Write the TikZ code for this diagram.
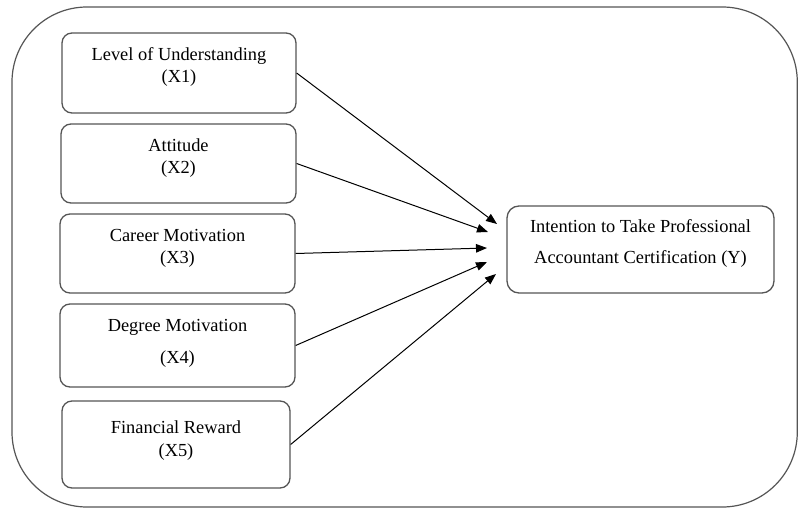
\documentclass[tikz,border=0pt]{standalone}
\usepackage{fontspec}
\setmainfont{Liberation Serif}
\usetikzlibrary{arrows.meta}
\definecolor{rim}{HTML}{555555}

\begin{document}
\begin{tikzpicture}[x=1pt,y=-1pt,>={Triangle[length=11pt,width=8.5pt]},
 var/.style={draw=rim,line width=1.3pt,rounded corners=10pt,inner sep=0pt},
 txt/.style={align=center,font=\fontsize{18.4}{22.5}\selectfont,inner sep=0pt},
 rel/.style={->,line width=1pt,black}]
 \useasboundingbox (0,0) rectangle (798,508);
 \draw[rim,line width=1.2pt,rounded corners=75pt] (12,7) rectangle (797.3,507);
 % independent variables
 \node[var,minimum width=234pt,minimum height=80pt] (x1) at (179,73) {};
 \node[var,minimum width=235pt,minimum height=79pt] (x2) at (178.5,163.5) {};
 \node[var,minimum width=235pt,minimum height=79pt] (x3) at (177.5,253.5) {};
 \node[var,minimum width=235pt,minimum height=83pt] (x4) at (177.5,345.5) {};
 \node[var,minimum width=228pt,minimum height=87pt] (x5) at (176,444.5) {};
 \node[txt] (l1) at (179,67) {Level of Understanding\\(X1)};
 \node[txt] (l2) at (178.5,158) {Attitude\\(X2)};
 \node[txt] (l3) at (177.5,248.5) {Career Motivation\\(X3)};
 \node[txt] (l4) at (177.5,343) {Degree Motivation\\[9.5pt](X4)};
 \node[txt] (l5) at (176,440.5) {Financial Reward\\(X5)};
 % dependent variable
 \node[var,rounded corners=12pt,minimum width=267pt,minimum height=87pt] (y) at (640.5,249.5) {};
 \node[txt] (ly) at (640.5,243.5) {Intention to Take Professional\\[8.5pt]Accountant Certification (Y)};
 \coordinate (e1) at (497,224);
 \coordinate (e2) at (488,232);
 \coordinate (e3) at (487,248);
 \coordinate (e4) at (487,262);
 \coordinate (e5) at (496,274);
 \draw[rel] (x1.east) -- (e1);
 \draw[rel] (x2.east) -- (e2);
 \draw[rel] (x3.east) -- (e3);
 \draw[rel] (x4.east) -- (e4);
 \draw[rel] (x5.east) -- (e5);
\end{tikzpicture}
\end{document}
